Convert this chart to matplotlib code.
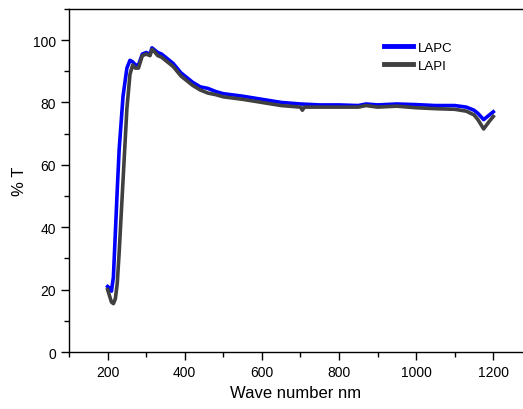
import matplotlib.pyplot as plt
from matplotlib.ticker import MultipleLocator

# LAPC spectrum
lapc_x = [200, 205, 210, 215, 220, 225, 230, 240, 250, 258, 265, 272, 280, 290, 300,
          310, 315, 320, 330, 340, 350, 360, 370, 380, 390, 400, 420, 440, 460,
          480, 500, 550, 600, 650, 700, 750, 800, 850, 870, 900, 950, 1000, 1050,
          1100, 1130, 1150, 1160, 1175, 1190, 1200]
lapc_y = [21, 20.5, 19.5, 24, 38, 52, 65, 82, 91, 93.5, 93, 92, 92, 95.5, 96,
          95.5, 97.5, 97, 96, 95.5, 94.5, 93.5, 92.5, 91, 89.5, 88.5, 86.5, 85, 84.5,
          83.5, 82.8, 82, 81, 80, 79.5, 79.2, 79.2, 79, 79.5, 79.2, 79.5, 79.3, 79,
          79, 78.5, 77.5, 76.5, 74.5, 76, 77]

# LAPI spectrum
lapi_x = [200, 205, 210, 215, 220, 225, 230, 240, 250, 258, 265, 272, 280, 290, 300,
          310, 315, 320, 330, 340, 350, 360, 370, 380, 390, 400, 420, 440, 460,
          480, 500, 550, 600, 650, 700, 705, 710, 720, 750, 800, 850, 870, 900,
          950, 1000, 1050, 1100, 1130, 1150, 1160, 1175, 1190, 1200]
lapi_y = [20, 18, 16, 15.5, 17, 22, 32, 55, 78, 89, 92, 91, 91, 95, 95.5,
          95, 97, 96.5, 95, 94.5, 93.5, 92.5, 91.5, 90, 88.5, 87.5, 85.5, 84, 83,
          82.5, 81.8, 81, 80, 79, 78.5, 77.5, 78.5, 78.5, 78.5, 78.5, 78.5, 79, 78.5,
          78.8, 78.3, 78, 77.8, 77.2, 76, 74.5, 71.5, 74, 75.5]

plt.rcParams.update({"font.family": ["Liberation Sans", "DejaVu Sans"],
                     "font.size": 10})

fig = plt.figure(figsize=(5.23, 4.10), dpi=100)
ax = fig.add_axes([0.132, 0.139, 0.868, 0.837])

ax.plot(lapc_x, lapc_y, c='#0000ff', lw=2.6, label='LAPC')
ax.plot(lapi_x, lapi_y, c='#404040', lw=2.6, label='LAPI')

ax.set_xlim(100, 1277)
ax.set_ylim(0, 110)
ax.xaxis.set_major_locator(MultipleLocator(200))
ax.xaxis.set_minor_locator(MultipleLocator(100))
ax.yaxis.set_major_locator(MultipleLocator(20))
ax.yaxis.set_minor_locator(MultipleLocator(10))
ax.tick_params(which='major', direction='out', length=6, width=1)
ax.tick_params(which='minor', direction='out', length=3.5, width=1)
ax.spines['right'].set_visible(False)
for s in ('left', 'bottom', 'top'):
    ax.spines[s].set_linewidth(1)

ax.set_xlabel('Wave number nm', fontsize=12)
ax.set_ylabel('% T', fontsize=12)

leg = ax.legend(frameon=False, loc='upper left', bbox_to_anchor=(0.667, 0.94),
                handlelength=2.2, handletextpad=0.4, labelspacing=0.45, fontsize=9.5)
for line in leg.get_lines():
    line.set_linewidth(3.5)

fig.savefig('out.png', dpi=100)
plt.close()
